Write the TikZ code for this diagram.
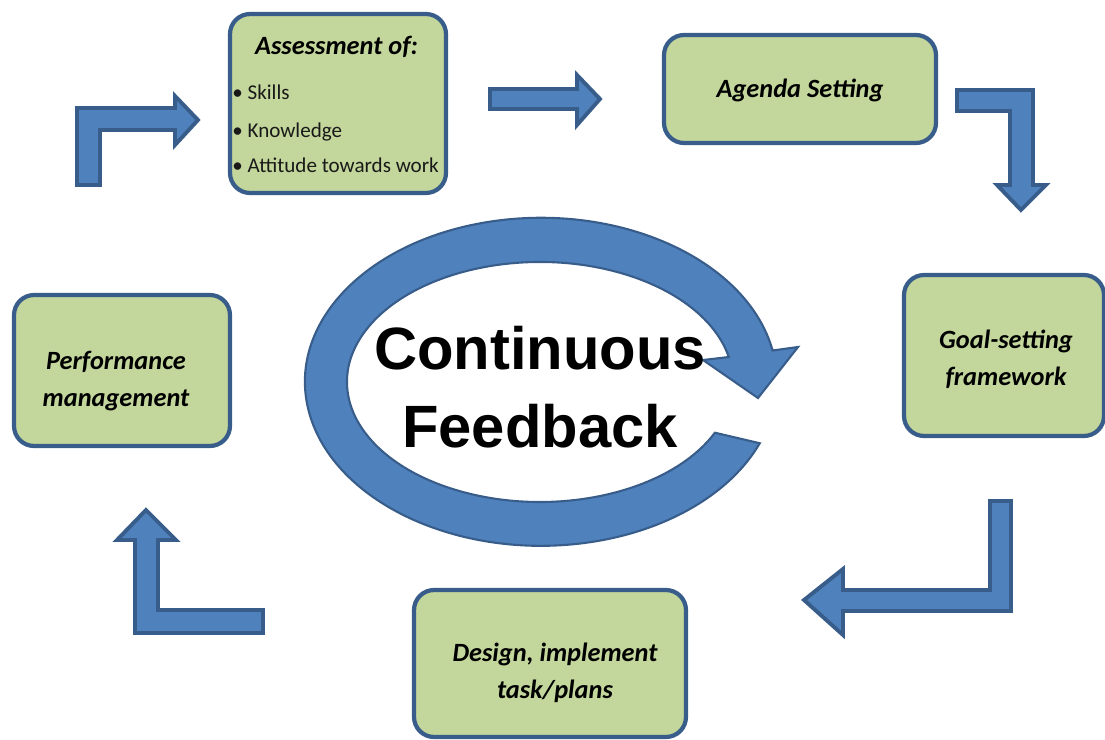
\documentclass[tikz,border=0pt]{standalone}
\usepackage{fontspec}
\setmainfont{Carlito}
\newfontfamily\loopfont{Liberation Sans}
\usepackage{xcolor}
\usepackage{tikz}

\definecolor{boxgreen}{HTML}{C3D69B}
\definecolor{edgeblue}{HTML}{385D8A}
\definecolor{arrowblue}{HTML}{4F81BD}

\begin{document}
\begin{tikzpicture}[x=0.02cm,y=-0.02cm]
      \tikzstyle{box}=[draw=edgeblue, line width=2.4pt, fill=boxgreen, rounded corners=0.4cm, inner sep=0pt]
      \tikzstyle{box_text}=[align=center, inner sep=0pt, font=\fontsize{15}{21}\selectfont\bfseries\itshape]
      \tikzstyle{item_text}=[anchor=base west, inner sep=0pt, font=\fontsize{12}{14}\selectfont, text=black!90]
      \tikzstyle{block_arrow}=[draw=edgeblue, line width=2.2pt, fill=arrowblue]
      \tikzstyle{loop_arrow}=[draw=edgeblue, line width=1.2pt, fill=arrowblue]
      \tikzstyle{loop_text}=[align=center, inner sep=0pt, font=\loopfont\fontsize{34}{44.4}\selectfont\bfseries]

      \useasboundingbox (0,0) rectangle (1105,740);

      \begin{scope}
        \draw [loop_arrow] (703,360) -- (758,398) -- (798,347) -- (772.6,350.5)
          arc [start angle=-11, end angle=-338, x radius=236, y radius=164]
          -- (714.9,432.7)
          arc [start angle=-335, end angle=-12, x radius=193, y radius=120]
          -- cycle;
        \node (feedback) at (540,387) [loop_text] {Continuous\\Feedback};
      \end{scope}

      \begin{scope}
        \node (assess) at (338,103.5) [box, minimum width=4.32cm, minimum height=3.58cm] {};
        \node (assess_title) at (336.5,55) [box_text, anchor=base] {Assessment of:};
        \node (skills) at (232,100) [item_text] {• Skills};
        \node (knowledge) at (232,137) [item_text] {• Knowledge};
        \node (attitude) at (232,173) [item_text] {• Attitude towards work};

        \node (agenda) at (800,89) [box, minimum width=5.44cm, minimum height=2.16cm] {};
        \node at (800,90) [box_text] {Agenda Setting};

        \node (goal) at (1004,355.5) [box, minimum width=4.0cm, minimum height=3.22cm] {};
        \node at (1006,359) [box_text] {Goal-setting\\framework};

        \node (design) at (550,663.5) [box, minimum width=5.44cm, minimum height=2.94cm] {};
        \node at (555,673) [box_text] {Design, implement\\task/plans};

        \node (perf) at (122,370.5) [box, minimum width=4.32cm, minimum height=3.02cm] {};
        \node at (116,381) [box_text] {Performance\\management};
      \end{scope}

      \begin{scope}
        \draw [block_arrow] (77,185) -- (77,108) -- (175,108) -- (175,96) -- (198,120)
          -- (175,145) -- (175,130) -- (100,130) -- (100,185) -- cycle;
        \draw [block_arrow] (490,89) -- (577,89) -- (577,75) -- (600,99) -- (577,125)
          -- (577,109) -- (490,109) -- cycle;
        \draw [block_arrow] (957,90) -- (1033,90) -- (1033,185) -- (1046,185) -- (1021,210)
          -- (997,185) -- (1010,185) -- (1010,111) -- (957,111) -- cycle;
        \draw [block_arrow] (990,501) -- (1011,501) -- (1011,611) -- (843,611) -- (843,635)
          -- (804,600) -- (843,569) -- (843,590) -- (990,590) -- cycle;
        \draw [block_arrow] (263,610) -- (263,633) -- (135,633) -- (135,540) -- (117,540)
          -- (146,510) -- (176,540) -- (158,540) -- (158,610) -- cycle;
      \end{scope}
\end{tikzpicture}
\end{document}
